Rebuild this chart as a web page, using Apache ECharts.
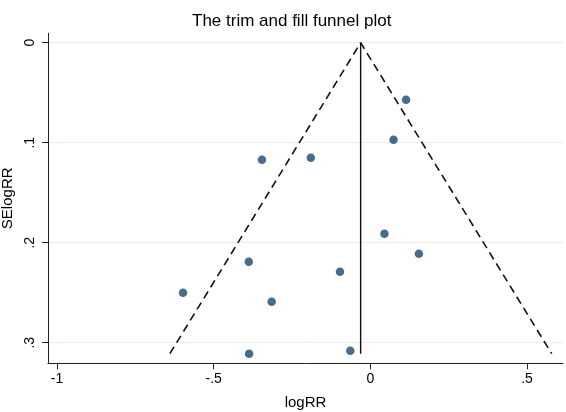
<!DOCTYPE html>
<html>
<head>
<meta charset="utf-8">
<script src="https://cdn.jsdelivr.net/npm/echarts@6/dist/echarts.min.js"></script>
<style>
html,body{margin:0;padding:0;background:#fff;}
#chart{width:566px;height:412px;}
</style>
</head>
<body>
<div id="chart"></div>
<script>
// Study estimates
var logRR   = [0.114, 0.074, -0.346, -0.190, 0.045, 0.155, -0.388, -0.097, -0.598, -0.315, -0.387, -0.064];
var seLogRR = [0.057, 0.097, 0.117, 0.115, 0.191, 0.211, 0.219, 0.229, 0.250, 0.259, 0.311, 0.308];

// Pooled estimate line and pseudo 95% confidence funnel (endpoints)
var pooledX = [-0.031, -0.031];
var pooledY = [0, 0.311];
var funnelX = [-0.640, -0.031, 0.579];
var funnelY = [0.311, 0, 0.311];

// Axis ticks
var xTickValues = [-1, -0.5, 0, 0.5];
var xTickLabels = ['-1', '-.5', '0', '.5'];
var yTickValues = [0, 0.1, 0.2, 0.3];
var yTickLabels = ['0', '.1', '.2', '.3'];

function zip(a, b) { return a.map(function (v, i) { return [v, b[i]]; }); }
function labelFor(values, labels) {
  return function (v) {
    for (var i = 0; i < values.length; i++) {
      if (Math.abs(values[i] - v) < 1e-9) return labels[i];
    }
    return '';
  };
}

var chart = echarts.init(document.getElementById('chart'), null, {renderer: 'canvas'});
var font = 'Liberation Sans, Arial, Helvetica, sans-serif';
chart.setOption({
  animation: false,
  backgroundColor: '#ffffff',
  title: {
    text: 'The trim and fill funnel plot',
    left: 187,
    top: 8,
    textStyle: {fontFamily: font, fontSize: 17, fontWeight: 'normal', color: '#000'}
  },
  grid: {left: 48, right: 3, top: 33.3, bottom: 48.7, containLabel: false, outerBoundsMode: 'none'},
  xAxis: {
    type: 'value',
    min: -1.029,
    max: 0.615,
    name: 'logRR',
    nameLocation: 'middle',
    nameGap: 32,
    nameTextStyle: {fontFamily: font, fontSize: 15, color: '#000'},
    axisLine: {show: true, onZero: false, lineStyle: {color: '#222', width: 1}},
    axisTick: {show: true, length: 6, customValues: xTickValues, lineStyle: {color: '#222'}},
    axisLabel: {
      customValues: xTickValues,
      formatter: labelFor(xTickValues, xTickLabels),
      margin: 9,
      fontFamily: font, fontSize: 14, color: '#000'
    },
    splitLine: {show: false}
  },
  yAxis: {
    type: 'value',
    inverse: true,
    min: -0.0094,
    max: 0.3206,
    name: 'SElogRR',
    nameLocation: 'middle',
    nameGap: 30,
    nameTextStyle: {fontFamily: font, fontSize: 15, color: '#000'},
    axisLine: {show: true, onZero: false, lineStyle: {color: '#222', width: 1}},
    axisTick: {show: true, length: 6, customValues: yTickValues, lineStyle: {color: '#222'}},
    axisLabel: {
      customValues: yTickValues,
      formatter: labelFor(yTickValues, yTickLabels),
      rotate: 90,
      margin: 11,
      fontFamily: font, fontSize: 14, color: '#000'
    },
    splitLine: {show: true, lineStyle: {color: '#e8eeef', width: 1}}
  },
  series: [
    {
      type: 'line',
      data: zip(funnelX, funnelY),
      symbol: 'none',
      lineStyle: {color: '#111', width: 1.6, type: [8, 5]},
      z: 2
    },
    {
      type: 'line',
      data: zip(pooledX, pooledY),
      symbol: 'none',
      lineStyle: {color: '#111', width: 1.4, type: 'solid'},
      z: 2
    },
    {
      type: 'scatter',
      data: zip(logRR, seLogRR),
      symbol: 'circle',
      symbolSize: 8.5,
      itemStyle: {color: '#1a476f'},
      z: 3
    }
  ]
});
</script>
</body>
</html>
